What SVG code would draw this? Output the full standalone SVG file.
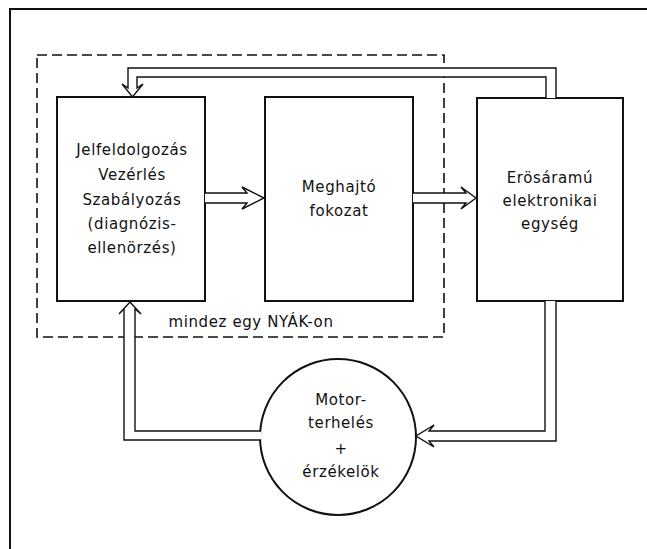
<svg xmlns="http://www.w3.org/2000/svg" width="647" height="549" viewBox="0 0 647 549">
  <style>
    .frame { fill: none; stroke: #111; stroke-width: 2; }
    .box { fill: #fff; stroke: #111; stroke-width: 2; }
    .pcb { fill: none; stroke: #111; stroke-width: 1.6; stroke-dasharray: 10 5; }
    .conn { fill: #fff; stroke: #111; stroke-width: 1.4; stroke-linejoin: miter; }
    text { font-family: "DejaVu Sans", "Liberation Sans", sans-serif; font-size: 15px; letter-spacing: 0.6px; fill: #111; text-anchor: middle; }
  </style>
  <rect width="647" height="549" fill="#fff"/>

  <!-- page frame (top and left edges) -->
  <path class="frame" d="M10,549 V9 H647"/>

  <!-- board outline: everything on one PCB -->
  <g id="pcb">
    <rect class="pcb" x="37" y="55" width="407" height="282"/>
    <text x="251" y="327">mindez egy NYÁK-on</text>
  </g>

  <g id="node-processing">
    <rect class="box" x="57" y="97" width="148" height="204"/>
    <text x="132" y="155">Jelfeldolgozás</text>
    <text x="132" y="180">Vezérlés</text>
    <text x="132" y="205">Szabályozás</text>
    <text x="132" y="229">(diagnózis-</text>
    <text x="132" y="253">ellenörzés)</text>
  </g>

  <g id="node-driver">
    <rect class="box" x="265" y="97" width="148" height="204"/>
    <text x="339" y="192">Meghajtó</text>
    <text x="339" y="216">fokozat</text>
  </g>

  <g id="node-power">
    <rect class="box" x="477" y="98" width="146" height="203"/>
    <text x="550" y="183">Erösáramú</text>
    <text x="550" y="206">elektronikai</text>
    <text x="550" y="229">egység</text>
  </g>

  <g id="node-motor">
    <circle class="box" cx="338" cy="437" r="78"/>
    <text x="341" y="405">Motor-</text>
    <text x="341" y="428">terhelés</text>
    <text x="341" y="454">+</text>
    <text x="341" y="477">érzékelök</text>
  </g>

  <!-- hollow double-line arrows -->
  <g id="connectors">
    <path class="conn" d="M205,193 H247 L242,187 L264,198 L242,209 L247,203 H205"/>
    <path class="conn" d="M413,193 H466 L461,187 L476,198 L461,209 L466,203 H413"/>
    <path class="conn" d="M545,301 V431 H429 L434,425 L416,436 L434,447 L429,441 H556 V301"/>
    <path class="conn" d="M261,431 H135 V309 L141,314 L130,302 L119,314 L124,309 V440 H261"/>
    <path class="conn" d="M546,98 V77 H137 V88 L143,84 L132.5,97 L122,84 L128,88 V68 H556 V98"/>
  </g>
</svg>
